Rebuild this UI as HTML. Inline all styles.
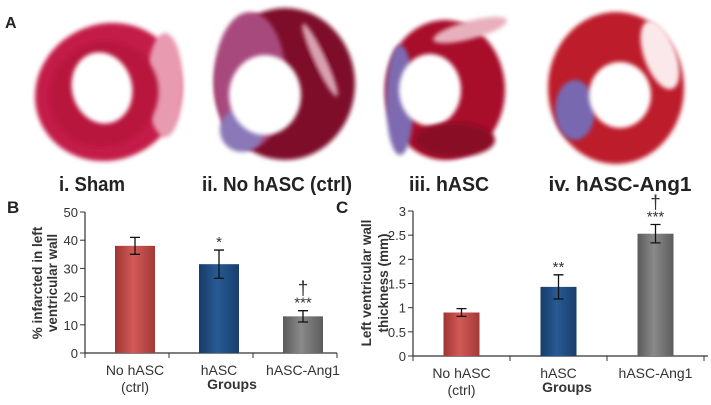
<!DOCTYPE html>
<html><head><meta charset="utf-8"><style>
html,body{margin:0;padding:0;background:#fff;}
body{width:711px;height:405px;overflow:hidden;position:relative;font-family:"Liberation Sans",sans-serif;}
svg{position:absolute;left:0;top:0;}
.tk{font-size:13px;fill:#333;}
.lab{font-size:20px;font-weight:bold;fill:#222;}
</style></head><body>
<svg id="fig" width="711" height="405" viewBox="0 0 711 405">
<defs>
<filter id="bl" x="-20%" y="-20%" width="140%" height="140%"><feGaussianBlur stdDeviation="2.2"/></filter>
<linearGradient id="gRed" x1="0" x2="1"><stop offset="0" stop-color="#9e3633"/><stop offset="0.45" stop-color="#d25a57"/><stop offset="1" stop-color="#a23a37"/></linearGradient>
<linearGradient id="gBlue" x1="0" x2="1"><stop offset="0" stop-color="#173c69"/><stop offset="0.45" stop-color="#285a94"/><stop offset="1" stop-color="#183e6c"/></linearGradient>
<linearGradient id="gGrey" x1="0" x2="1"><stop offset="0" stop-color="#5a5a5a"/><stop offset="0.45" stop-color="#8a8a8a"/><stop offset="1" stop-color="#5c5c5c"/></linearGradient>
</defs>

<text x="5" y="28" font-size="16" font-weight="bold" fill="#222">A</text>

<g>
<ellipse cx="108" cy="92" rx="74" ry="68" fill="#c41a4a" filter="url(#bl)" transform="rotate(-25 108 92)"/>
<ellipse cx="165" cy="85" rx="18" ry="52" fill="#e89ab0" filter="url(#bl)"/>
<ellipse cx="104" cy="94" rx="55" ry="52" fill="#b8123c" filter="url(#bl)" transform="rotate(-25 104 94)"/>
<ellipse cx="102" cy="88" rx="30" ry="36" fill="#fff" filter="url(#bl)" transform="rotate(-15 102 88)"/>
</g>
<g>
<ellipse cx="285" cy="84" rx="70" ry="76" fill="#7e0f2a" filter="url(#bl)"/>
<ellipse cx="250" cy="80" rx="36" ry="68" fill="#a8497e" filter="url(#bl)"/>
<ellipse cx="242" cy="130" rx="22" ry="22" fill="#8a78b8" filter="url(#bl)"/>
<ellipse cx="320" cy="60" rx="6" ry="40" fill="#d8a0b0" filter="url(#bl)" transform="rotate(-25 320 60)"/>
<ellipse cx="265" cy="95" rx="36" ry="40" fill="#fff" filter="url(#bl)"/>
</g>
<g>
<ellipse cx="445" cy="90" rx="60" ry="70" fill="#a80f2c" filter="url(#bl)"/>
<ellipse cx="400" cy="100" rx="14" ry="55" fill="#7e6ab0" filter="url(#bl)"/>
<ellipse cx="470" cy="30" rx="38" ry="9" fill="#e8b0bc" filter="url(#bl)" transform="rotate(-15 470 30)"/>
<ellipse cx="430" cy="90" rx="31" ry="36" fill="#fff" filter="url(#bl)"/>
<ellipse cx="455" cy="140" rx="40" ry="17" fill="#8a0a25" filter="url(#bl)"/>
</g>
<g>
<ellipse cx="616" cy="88" rx="68" ry="76" fill="#bd1a2a" filter="url(#bl)"/>
<ellipse cx="575" cy="110" rx="20" ry="30" fill="#7868b0" filter="url(#bl)"/>
<ellipse cx="660" cy="55" rx="16" ry="36" fill="#fbe8ea" filter="url(#bl)" transform="rotate(-20 660 55)"/>
<ellipse cx="620" cy="95" rx="31" ry="33" fill="#fff" filter="url(#bl)"/>
</g>

<text class="lab" x="92" y="191" text-anchor="middle" textLength="66" lengthAdjust="spacingAndGlyphs">i. Sham</text>
<text class="lab" x="277" y="191" text-anchor="middle" textLength="150" lengthAdjust="spacingAndGlyphs">ii. No hASC (ctrl)</text>
<text class="lab" x="449" y="191" text-anchor="middle" textLength="80" lengthAdjust="spacingAndGlyphs">iii. hASC</text>
<text class="lab" x="620" y="191" text-anchor="middle" textLength="143" lengthAdjust="spacingAndGlyphs">iv. hASC-Ang1</text>

<text x="7" y="213" font-size="17" font-weight="bold" fill="#222">B</text>
<text x="336" y="213" font-size="17" font-weight="bold" fill="#222">C</text>

<g id="chartB"></g>
<g id="chartC"></g>
</svg>
<script>
const categories = ["No hASC", "hASC", "hASC-Ang1"];
const catSub = ["(ctrl)", "", ""];
const infarctValues = [38, 31.5, 13];
const infarctErrors = [3, 5, 2];
const infarctTicks = [0, 10, 20, 30, 40, 50];
const infarctMarks = ["", "*", "***"];
const infarctDagger = ["", "", "†"];
const thickValues = [0.9, 1.43, 2.53];
const thickErrors = [0.08, 0.25, 0.19];
const thickTicks = [0, 0.5, 1, 1.5, 2, 2.5, 3];
const thickMarks = ["", "**", "***"];
const thickDagger = ["", "", "†"];
const fills = ["url(#gRed)", "url(#gBlue)", "url(#gGrey)"];
const NS = "http://www.w3.org/2000/svg";
function mk(parent, tag, attrs, text){
  const e = document.createElementNS(NS, tag);
  for (const k in attrs) e.setAttribute(k, attrs[k]);
  if (text !== undefined) e.textContent = text;
  parent.appendChild(e); return e;
}
function drawChart(g, cfg, vals, errs, ticks, marks, daggers, names){
  const y = v => cfg.y0 - v / cfg.max * (cfg.y0 - cfg.yTop);
  const x = i => cfg.xStart + (i + 0.5) * cfg.bw + cfg.off;
  const ya = mk(g, "line", {x1:cfg.x0, x2:cfg.x0, y1:cfg.yTop, y2:cfg.y0, stroke:"#333", "stroke-width":1.2});
  
  
  ticks.forEach(t => {
    const tl = mk(g, "line", {x1:cfg.x0-5, x2:cfg.x0, y1:y(t), y2:y(t), stroke:"#333", "stroke-width":1});
    
    
    const tt = mk(g, "text", {x:cfg.x0-7, y:y(t)+5, "text-anchor":"end", class:"tk"}, String(t));
    
    
  });
  const xa = mk(g, "line", {x1:cfg.x0, x2:cfg.xEnd, y1:cfg.y0, y2:cfg.y0, stroke:"#333", "stroke-width":1.2});
  
  
  for (let i = 0; i <= vals.length; i++){
    const xx = cfg.xStart + i * cfg.bw;
    const tk = mk(g, "line", {x1:xx, x2:xx, y1:cfg.y0, y2:cfg.y0+5, stroke:"#333", "stroke-width":1});
    
    
  }
  vals.forEach((v, i) => {
    const cx = x(i);
    const b = mk(g, "rect", {x:cx-cfg.w/2, y:y(v), width:cfg.w, height:cfg.y0-y(v), fill:fills[i]});
    
    
    const e = errs[i];
    const eb = mk(g, "path", {d:`M${cx},${y(v+e)}V${y(v-e)}M${cx-5},${y(v+e)}H${cx+5}M${cx-5},${y(v-e)}H${cx+5}`, stroke:"#111", "stroke-width":1.3, fill:"none"});
    
    
    if (marks[i]){
      const m = mk(g, "text", {x:cx, y:y(v+e)-3, "text-anchor":"middle", "font-size":15, fill:"#333"}, marks[i]);
      
      
    }
    if (daggers[i]){
      const d = mk(g, "text", {x:cx, y:y(v+e)-16, "text-anchor":"middle", "font-size":19, fill:"#333"}, daggers[i]);
      
      
    }
    const cl = mk(g, "text", {x:cx, y:cfg.y0+22, "text-anchor":"middle", "font-size":14, fill:"#333"}, categories[i]);
    
    
    if (catSub[i]){
      const cs = mk(g, "text", {x:cx, y:cfg.y0+39, "text-anchor":"middle", "font-size":14, fill:"#333"}, catSub[i]);
      
      
    }
  });
  const gt = mk(g, "text", {x:cfg.groupsX, y:cfg.y0+36, "text-anchor":"middle", "font-size":14, "font-weight":"bold", fill:"#333"}, "Groups");
  
  
  cfg.title.forEach((line, k) => {
    const tx = cfg.titleX[k];
    const t = mk(g, "text", {x:tx, y:cfg.titleY, "text-anchor":"middle", "font-size":13.5, "font-weight":"bold", fill:"#333", transform:`rotate(-90 ${tx} ${cfg.titleY})`}, line);
    
    
  });
}
const names = ["no-hasc", "hasc", "hasc-ang1"];
drawChart(document.getElementById("chartB"),
  {x0:85, xStart:85, xEnd:337, bw:84, off:8, w:40, y0:353, yTop:212, max:50, groupsX:232,
   title:["% infarcted in left","ventricular wall"], titleX:[42,57], titleY:283},
  infarctValues, infarctErrors, infarctTicks, infarctMarks, infarctDagger, names);
drawChart(document.getElementById("chartC"),
  {x0:413, xStart:413, xEnd:708, bw:97, off:0, w:36, y0:356, yTop:211, max:3, groupsX:567,
   title:["Left ventricular wall","thickness (mm)"], titleX:[371,388], titleY:283},
  thickValues, thickErrors, thickTicks, thickMarks, thickDagger, names);
</script>
</body></html>
